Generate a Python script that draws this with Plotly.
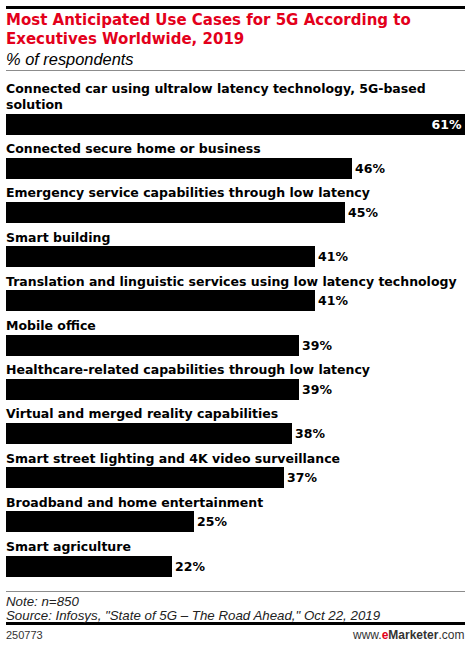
import plotly.graph_objects as go

categories = [
    "Connected car using ultralow latency technology, 5G-based<br>solution",
    "Connected secure home or business",
    "Emergency service capabilities through low latency",
    "Smart building",
    "Translation and linguistic services using low latency technology",
    "Mobile office",
    "Healthcare-related capabilities through low latency",
    "Virtual and merged reality capabilities",
    "Smart street lighting and 4K video surveillance",
    "Broadband and home entertainment",
    "Smart agriculture",
]
values = [61, 46, 45, 41, 41, 39, 39, 38, 37, 25, 22]
value_labels = [f"{v}%" for v in values]

W, H = 470, 645
BOLD = "DejaVu Sans"
FONT = "Liberation Sans"
RED = "#e3001b"

def px_y(y):
    return 1 - y / H

def px_x(x):
    return x / W

ids = list(range(len(categories)))
positions = ["inside" if v == max(values) else "outside" for v in values]

fig = go.Figure()
fig.add_trace(go.Bar(
    x=values, y=ids, orientation="h",
    marker=dict(color="#000000", line=dict(width=0)),
    width=0.475,
    text=value_labels, textposition=positions,
    insidetextanchor="end",
    insidetextfont=dict(family=BOLD, size=12.5, color="white", weight="bold"),
    outsidetextfont=dict(family=BOLD, size=12.5, color="black", weight="bold"),
    cliponaxis=False,
    hoverinfo="skip",
))

annotations = []

# decorative rule lines drawn first as 1px filled annotation boxes: (top px, colour)
rules = [(6, "#000000"), (7, "#000000"), (8, "#000000"),
         (69.5, "#8c8c8c"), (590.5, "#8c8c8c"),
         (622, "#000000"), (623, "#000000"), (624, "#000000")]
for top, col in rules:
    annotations.append(dict(
        x=px_x(6), y=px_y(top), xref="paper", yref="paper", text=" ",
        showarrow=False, xanchor="left", yanchor="top",
        width=459, height=1, bgcolor=col, borderpad=0, borderwidth=0,
        font=dict(size=1, color=col),
    ))

for i, c in enumerate(categories):
    annotations.append(dict(
        x=0, y=i, xref="x", yref="y", text=c, showarrow=False,
        xanchor="left", yanchor="bottom", yshift=10, xshift=-2, align="left",
        font=dict(family=BOLD, size=12.5, color="black", weight="bold"),
    ))

def paper_text(text, x, y, size, color="black", xanchor="left", weight="normal", style="normal", family=FONT):
    annotations.append(dict(
        x=px_x(x), y=px_y(y), xref="paper", yref="paper", text=text,
        showarrow=False, xanchor=xanchor, yanchor="middle", align="left",
        font=dict(family=family, size=size, color=color, weight=weight, style=style),
    ))

paper_text("Most Anticipated Use Cases for 5G According to", 4, 20, 15, RED, weight="bold", family=BOLD)
paper_text("Executives Worldwide, 2019", 4, 39, 15, RED, weight="bold", family=BOLD)
paper_text("% of respondents", 4, 59, 16.4, style="italic")
paper_text("Note: n=850", 4, 601, 13.3, "#222", style="italic")
paper_text("Source: Infosys, \"State of 5G – The Road Ahead,\" Oct 22, 2019", 4, 615, 13.3, "#222", style="italic")
paper_text("250773", 4, 635, 11, "#333")
paper_text('www.<b><span style="color:%s">e</span>Marketer</b>.com' % RED, 466, 635, 12, "#333", xanchor="right")

fig.update_layout(
    width=W, height=H,
    margin=dict(l=0, r=0, t=0, b=0),
    paper_bgcolor="white", plot_bgcolor="white",
    showlegend=False,
    bargap=0,
    xaxis=dict(range=[0, 61], domain=[px_x(6), px_x(465)], visible=False, fixedrange=True),
    yaxis=dict(range=[10.5, -0.5], domain=[px_y(588.1), px_y(101.9)], visible=False, fixedrange=True),
    annotations=annotations,
)

fig.write_html("out.html", config={"displayModeBar": False},
               post_script="document.body.style.margin='0';document.body.style.overflow='hidden';")
